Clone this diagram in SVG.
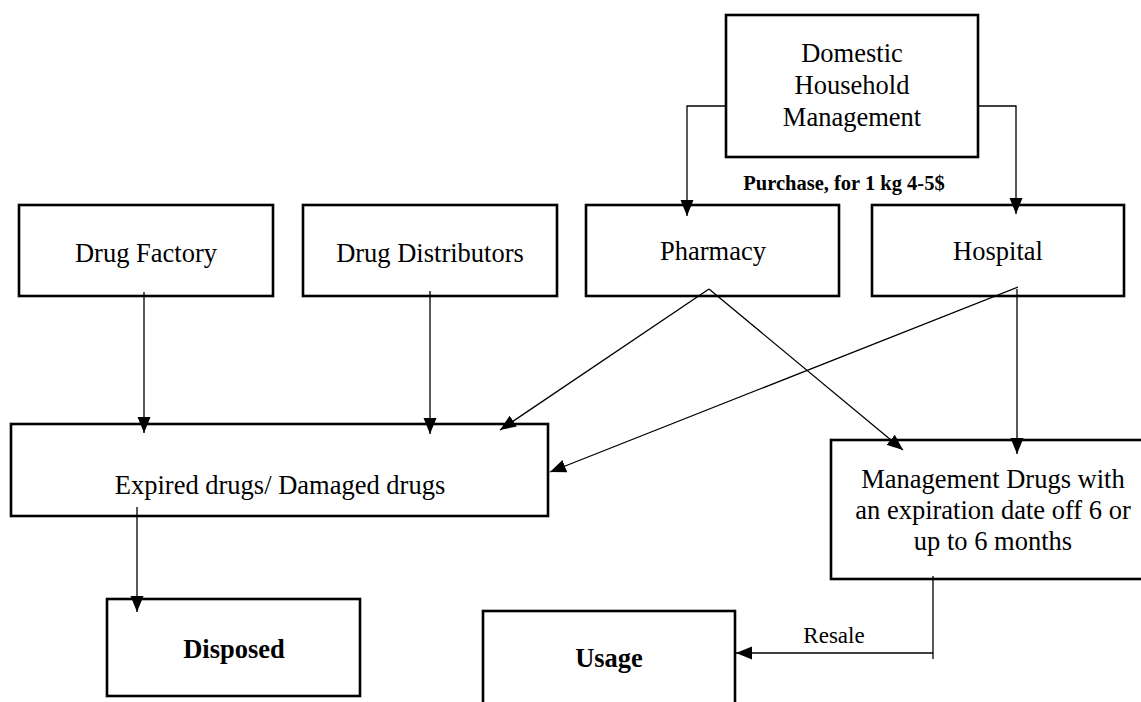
<svg xmlns="http://www.w3.org/2000/svg" width="1141" height="702" viewBox="0 0 1141 702">
<style>
.box{fill:#fff;stroke:#000;stroke-width:2.6}
.t{font-family:"Liberation Serif","Times New Roman",serif;font-size:26.5px;fill:#000;text-anchor:middle}
.b{font-weight:bold}
.c{fill:none;stroke:#000;stroke-width:1.3}
</style>
<defs>
<marker id="ah" markerUnits="userSpaceOnUse" markerWidth="16" markerHeight="14" refX="16" refY="6.5" orient="auto" viewBox="0 0 16 13">
<path d="M0,0 L16,6.5 L0,13 z" fill="#000"/>
</marker>
</defs>
<rect width="1141" height="702" fill="#fff"/>
<g id="domestic"><rect class="box" x="726" y="15" width="252" height="142"/>
<text class="t" x="852" y="62">Domestic</text><text class="t" x="852" y="94">Household</text><text class="t" x="852" y="126">Management</text></g>
<g id="purchase-label"><text class="t b" x="844" y="190" style="font-size:20.5px">Purchase, for 1 kg 4-5$</text></g>
<g id="factory"><rect class="box" x="19" y="205" width="254" height="91"/><text class="t" x="146" y="262">Drug Factory</text></g>
<g id="distributors"><rect class="box" x="303" y="205" width="254" height="91"/><text class="t" x="430" y="262">Drug Distributors</text></g>
<g id="pharmacy"><rect class="box" x="586" y="205" width="253" height="91"/><text class="t" x="713" y="260">Pharmacy</text></g>
<g id="hospital"><rect class="box" x="872" y="205" width="252" height="91"/><text class="t" x="998" y="260">Hospital</text></g>
<g id="expired"><rect class="box" x="11" y="424" width="537" height="92"/><text class="t" x="280" y="494">Expired drugs/ Damaged drugs</text></g>
<g id="management"><rect class="box" x="831" y="440" width="324" height="139"/>
<text class="t" x="993" y="488">Management Drugs with</text><text class="t" x="993" y="519">an expiration date off 6 or</text><text class="t" x="993" y="550">up to 6 months</text></g>
<g id="disposed"><rect class="box" x="107" y="599" width="253" height="97"/><text class="t b" x="234" y="658">Disposed</text></g>
<g id="usage"><rect class="box" x="483" y="611" width="252" height="110"/><text class="t b" x="609" y="667">Usage</text></g>
<g id="connectors">
<path class="c" d="M726,106 H687 V216" marker-end="url(#ah)"/>
<path class="c" d="M978,106 H1016 V214" marker-end="url(#ah)"/>
<path class="c" d="M144,292 V433" marker-end="url(#ah)"/>
<path class="c" d="M430,291 V434" marker-end="url(#ah)"/>
<path class="c" d="M709,289 L500,430" marker-end="url(#ah)"/>
<path class="c" d="M709,289 L903,450" marker-end="url(#ah)"/>
<path class="c" d="M1018,287 L550,472" marker-end="url(#ah)"/>
<path class="c" d="M1017,289 V454" marker-end="url(#ah)"/>
<path class="c" d="M137,507 V612" marker-end="url(#ah)"/>
<path class="c" d="M933,576 V659"/>
<path class="c" d="M933,653 H736" marker-end="url(#ah)"/>
<text class="t" x="834" y="643" style="font-size:23px">Resale</text>
</g>
</svg>
